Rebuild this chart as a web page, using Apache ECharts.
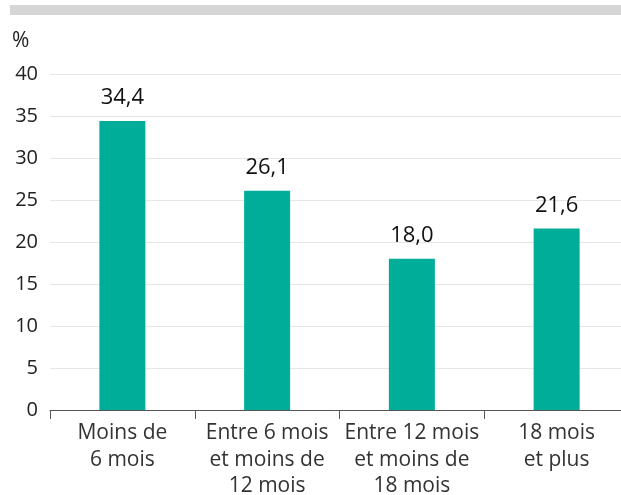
<!DOCTYPE html>
<html><head><meta charset="utf-8">
<script src="https://cdn.jsdelivr.net/npm/echarts@6/dist/echarts.min.js"></script>
<style>html,body{margin:0;padding:0;background:#fff}#c{width:621px;height:495px}</style>
</head><body><div id="c"></div>
<script>
const categories = ["Moins de\n6 mois", "Entre 6 mois\net moins de\n12 mois", "Entre 12 mois\net moins de\n18 mois", "18 mois\net plus"];
const values = [34.4, 26.1, 18.0, 21.6];
const yTicks = [0, 5, 10, 15, 20, 25, 30, 35, 40];
const unitLabel = "%";
const font = "'Open Sans', 'Noto Sans', sans-serif";
const chart = echarts.init(document.getElementById('c'), null, {renderer: 'canvas'});
chart.setOption({
  animation: false,
  graphic: [
    {type: 'rect', shape: {x: 10, y: 5, width: 611, height: 10}, style: {fill: '#d6d6d6'}},
    {type: 'text', left: 12, top: 31, style: {text: unitLabel, font: "21px " + font, fill: '#222'}}
  ],
  grid: {left: 50, width: 579, top: 74, height: 336, containLabel: false, outerBoundsMode: 'none'},
  xAxis: {
    type: 'category', data: categories,
    axisLine: {lineStyle: {color: '#555', width: 1}},
    axisTick: {show: true, length: 9, lineStyle: {color: '#555'}},
    axisLabel: {color: '#333', fontFamily: font, fontSize: 21, lineHeight: 26.5, margin: 10, interval: 0}
  },
  yAxis: {
    type: 'value', min: yTicks[0], max: yTicks[yTicks.length - 1], interval: 5,
    splitLine: {show: true, lineStyle: {color: '#e6e6e6', width: 1}},
    axisLine: {show: false}, axisTick: {show: false},
    axisLabel: {color: '#222', fontFamily: font, fontSize: 20, margin: 12}
  },
  series: [{
    type: 'bar', data: values, barWidth: 46,
    itemStyle: {color: '#00ad98'},
    label: {show: true, position: 'top', distance: 12, color: '#111', fontFamily: font, fontSize: 22,
      formatter: p => p.value.toFixed(1).replace('.', ',')}
  }]
});
</script></body></html>
